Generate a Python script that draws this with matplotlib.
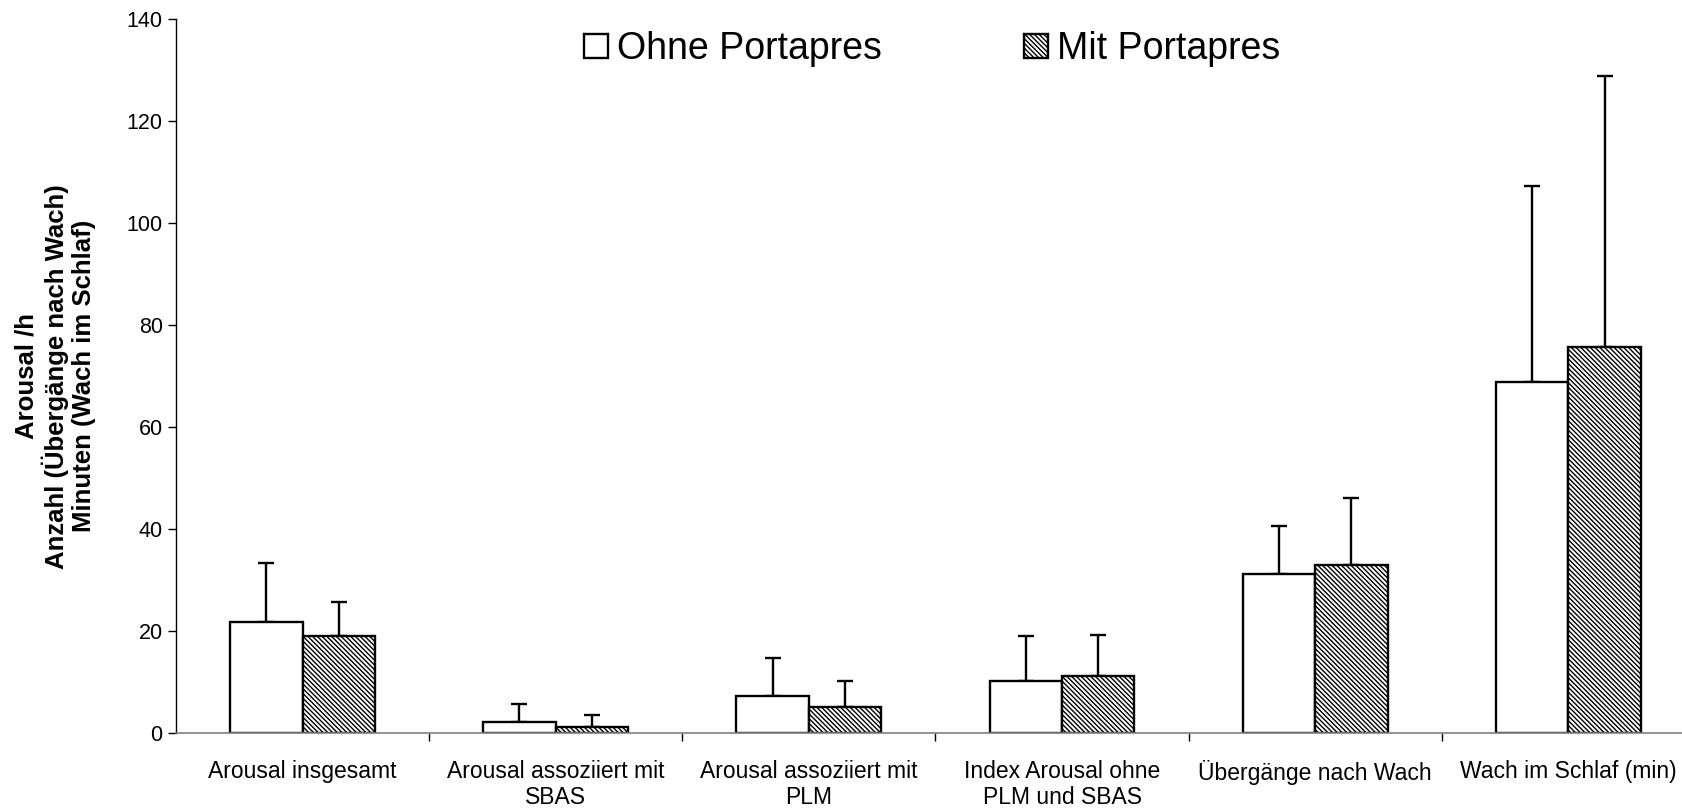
import matplotlib
matplotlib.use("Agg")
import matplotlib.pyplot as plt
import numpy as np

plt.rcParams['font.family'] = ['Liberation Sans', 'DejaVu Sans']
plt.rcParams['hatch.linewidth'] = 1.0

# group labels along the x axis
categories = [
    "Arousal insgesamt",
    "Arousal assoziiert mit\nSBAS",
    "Arousal assoziiert mit\nPLM",
    "Index Arousal ohne\nPLM und SBAS",
    "Übergänge nach Wach",
    "Wach im Schlaf (min)",
]

# means and standard deviations per group
ohne_means = [21.8, 2.3, 7.4, 10.3, 31.2, 68.9]
ohne_sd = [11.6, 3.4, 7.3, 8.8, 9.4, 38.4]
mit_means = [19.1, 1.3, 5.2, 11.2, 33.0, 75.8]
mit_sd = [6.6, 2.2, 5.1, 8.1, 13.1, 53.2]

series_labels = ["Ohne Portapres", "Mit Portapres"]
y_ticks = [0, 20, 40, 60, 80, 100, 120, 140]

fig = plt.figure(figsize=(16.82, 8.09), dpi=100)
# axes runs a little past the right edge of the figure
ax = fig.add_axes([0.1046, 0.0936, 0.9031, 0.8824])

x = np.arange(len(categories))
w = 0.286
lw = 1.7

ax.bar(x - w / 2, ohne_means, w, color="white", edgecolor="black",
       linewidth=lw, label=series_labels[0], zorder=2)
ax.bar(x + w / 2, mit_means, w, color="white", edgecolor="black",
       linewidth=lw, hatch="\\" * 7, label=series_labels[1], zorder=2)

# only the upper half of each error bar is drawn
ax.errorbar(x - w / 2, ohne_means, yerr=[np.zeros(len(x)), ohne_sd],
            fmt="none", ecolor="black", elinewidth=lw, capsize=5.8,
            capthick=lw, zorder=1)
ax.errorbar(x + w / 2, mit_means, yerr=[np.zeros(len(x)), mit_sd],
            fmt="none", ecolor="black", elinewidth=lw, capsize=5.8,
            capthick=lw, zorder=1)

ax.set_xlim(-0.5, len(categories) - 0.5)
ax.set_ylim(0, 140)
ax.set_yticks(y_ticks)
ax.tick_params(axis="y", labelsize=15.5, length=6, width=1, direction="out")

# labels sit at group centres, tick marks between groups
ax.set_xticks(x)
ax.set_xticklabels(categories, fontsize=16.5, linespacing=1.2)
ax.tick_params(axis="x", which="major", length=0, pad=19)
ax.set_xticks(x[:-1] + 0.5, minor=True)
ax.tick_params(axis="x", which="minor", length=6, width=1,
               direction="out", color="black")

for side in ("top", "right"):
    ax.spines[side].set_visible(False)
ax.spines["bottom"].set_color("#808080")
ax.spines["bottom"].set_linewidth(1.2)
ax.spines["left"].set_linewidth(1)

ax.set_ylabel("Arousal /h\nAnzahl (Übergänge nach Wach)\nMinuten (Wach im Schlaf)",
              fontsize=18.5, fontweight="bold", linespacing=1.15, labelpad=22)

ax.legend(loc="center", bbox_to_anchor=(0.498, 0.958), ncol=2, frameon=False,
          fontsize=27, handlelength=0.62, handleheight=0.62,
          handletextpad=0.25, columnspacing=3.8, borderaxespad=0)

fig.savefig("out.png", dpi=100)
